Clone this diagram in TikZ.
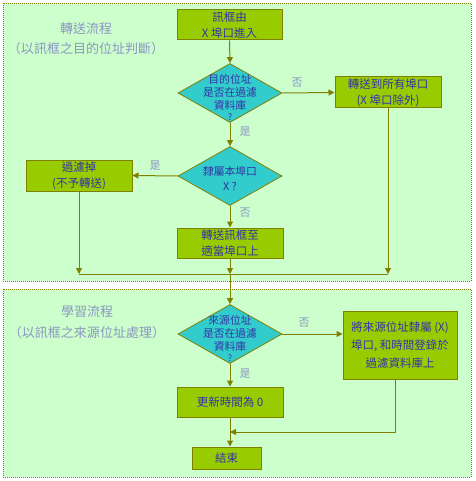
\documentclass[tikz,border=0pt]{standalone}
\usepackage{fontspec}
\newfontfamily\cjk{Noto Sans CJK TC}
\usetikzlibrary{shapes.geometric,arrows.meta}
\definecolor{panel}{RGB}{204,255,204}
\definecolor{lineol}{RGB}{128,128,0}
\definecolor{boxgreen}{RGB}{153,204,0}
\definecolor{dteal}{RGB}{51,204,204}
\definecolor{txtblue}{RGB}{51,51,165}
\definecolor{pale}{RGB}{140,150,195}
\begin{document}
\begin{tikzpicture}[x=1pt,y=-1pt,
 proc/.style={draw=lineol, fill=boxgreen, line width=1pt, inner sep=0pt, text=txtblue, font=\cjk\fontsize{11.5}{16}\selectfont, align=center},
 dec/.style={diamond, draw=lineol, fill=dteal, line width=0.8pt, minimum width=104pt, minimum height=59pt, inner sep=0pt},
 dtxt/.style={text=txtblue, font=\cjk\fontsize{10.8}{13}\selectfont, align=center, inner sep=0pt},
 lbl/.style={text=pale, font=\cjk\fontsize{11}{13}\selectfont, inner sep=0pt},
 ttl/.style={text=pale, font=\cjk\fontsize{13}{16}\selectfont, inner sep=0pt},
 conn/.style={draw=lineol, line width=1pt},
 arr/.style={conn, -{Triangle[length=6pt,width=6pt]}},
 panelbox/.style={fill=panel, draw=lineol, dash pattern=on 1pt off 1pt, line width=0.8pt}]
\path[use as bounding box, fill=white] (0,0) rectangle (475,481);
% panels
\draw[panelbox] (3,3) rectangle (471,281);
\draw[panelbox] (3,289) rectangle (471,477);
% titles
\node[ttl] (t1) at (86,29) {轉送流程};
\node[ttl] (t1b) at (86,49) {（以訊框之目的位址判斷）};
\node[ttl] (t2) at (87,312) {學習流程};
\node[ttl] (t2b) at (87,333) {（以訊框之來源位址處理）};
% top flow
\node[proc, minimum width=105pt, minimum height=30pt] (start) at (229.5,25) {訊框由\\X 埠口進入};
\node[dec] (d1) at (230,93) {};
\node[dtxt] (d1t) at (230,97) {目的位址\\是否在過濾\\資料庫\\[-2pt]{\fontsize{9}{9}\selectfont ?}};
\node[proc, minimum width=106pt, minimum height=31pt] (all) at (388,92.5) {轉送到所有埠口\\(X 埠口除外)};
\node[dec] (d2) at (230,176) {};
\node[dtxt] (d2t) at (230,178.5) {隸屬本埠口\\[2pt]X ?};
\node[proc, minimum width=106pt, minimum height=31pt] (filter) at (79,175.5) {過濾掉\\(不予轉送)};
\node[proc, minimum width=106pt, minimum height=30pt] (fwd) at (230,243) {轉送訊框至\\適當埠口上};
\draw[arr] (start.south) -- (d1.north);
\draw[arr] (d1.east) -- (all.west);
\node[lbl] (l1) at (297,83) {否};
\draw[arr] (d1.south) -- (d2.north);
\node[lbl] (l2) at (245,132) {是};
\draw[arr] (d2.west) -- (filter.east);
\node[lbl] (l3) at (155,166) {是};
\draw[arr] (d2.south) -- (fwd.north);
\node[lbl] (l4) at (245,213) {否};
\coordinate (j1) at (230,274);
\draw[arr] (filter.south) -- (filter.south |- j1);
\draw[arr] (all.south) -- (all.south |- j1);
\draw[arr] (fwd.south) -- (j1);
\draw[conn] (filter.south |- j1) -- (all.south |- j1);
% bottom flow
\node[dec] (d3) at (230,334) {};
\node[dtxt] (d3t) at (230,338.5) {來源位址\\是否在過濾\\資料庫\\[-2pt]{\fontsize{9}{9}\selectfont ?}};
\node[proc, minimum width=114pt, minimum height=68pt, font=\cjk\fontsize{11.5}{18}\selectfont] (src) at (400,345) {將來源位址隸屬 (X)\\埠口, 和時間登錄於\\過濾資料庫上};
\node[proc, minimum width=106pt, minimum height=30pt] (upd) at (230,402) {更新時間為 0};
\node[proc, minimum width=69pt, minimum height=22pt] (end) at (226.5,458) {結束};
\draw[arr] (j1) -- (d3.north);
\draw[arr] (d3.east) -- (d3.east -| src.west);
\node[lbl] (l5) at (304,323) {否};
\draw[arr] (d3.south) -- (upd.north);
\node[lbl] (l6) at (245,374) {是};
\coordinate (j2) at (230,432);
\draw[arr] ([xshift=-5pt]src.south) |- (j2);
\draw[arr] (upd.south) -- (upd.south |- end.north);
\end{tikzpicture}
\end{document}
